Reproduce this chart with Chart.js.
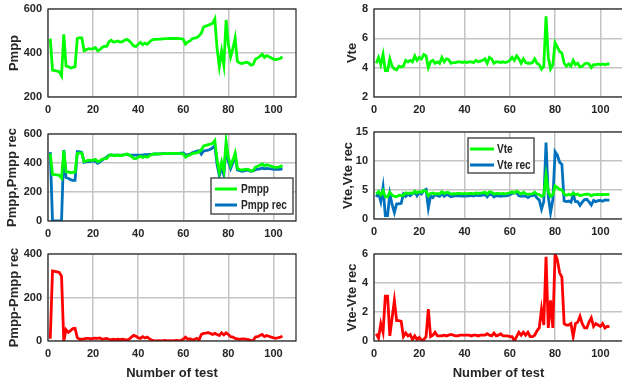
<!DOCTYPE html>
<html>
<head>
<meta charset="utf-8">
<script src="https://cdn.jsdelivr.net/npm/chart.js@4.4.1/dist/chart.umd.min.js"></script>
<style>
html, body { margin: 0; padding: 0; background: #fff; width: 622px; height: 385px; overflow: hidden; }
canvas { position: absolute; }
</style>
</head>
<body>
<canvas id="c1" width="311" height="127" style="left:0;top:-5px"></canvas>
<canvas id="c2" width="320" height="127" style="left:311px;top:-5px"></canvas>
<canvas id="c3" width="311" height="126" style="left:0;top:120px"></canvas>
<canvas id="c4" width="320" height="126" style="left:311px;top:118px"></canvas>
<canvas id="c5" width="311" height="145" style="left:0;top:240px"></canvas>
<canvas id="c6" width="320" height="145" style="left:311px;top:240px"></canvas>
<script>
// test index 1..104
const testNo = Array.from({ length: 104 }, (_, i) => i + 1);
const xTicks = [0, 20, 40, 60, 80, 100];

const pmpp = [465, 322, 320, 318, 315, 296, 485, 340, 338, 332, 335, 338, 466, 470, 468, 410, 415, 420, 418, 420,
  425, 410, 415, 425, 430, 430, 450, 458, 450, 452, 455, 450, 452, 458, 462, 455, 445, 432, 430, 440,
  448, 438, 445, 440, 450, 458, 462, 462, 463, 463, 464, 465, 465, 466, 466, 466, 466, 465, 465, 462,
  440, 450, 455, 465, 468, 470, 478, 490, 518, 522, 526, 530, 535, 555, 420, 338, 408, 345, 550, 440,
  382, 420, 468, 362, 355, 352, 355, 358, 355, 345, 348, 372, 378, 385, 395, 380, 388, 383, 378, 372,
  370, 372, 375, 383];
const pmppRec = [475, 0, 0, 0, 0, 0, 490, 300, 295, 285, 280, 280, 478, 478, 472, 405, 410, 410, 412, 415,
  412, 398, 408, 420, 430, 440, 455, 455, 455, 455, 455, 455, 455, 458, 460, 455, 455, 455, 455, 455,
  455, 455, 458, 458, 460, 460, 462, 462, 463, 463, 464, 465, 465, 466, 466, 466, 466, 465, 468, 470,
  455, 458, 462, 470, 476, 482, 484, 460, 483, 486, 488, 495, 505, 520, 390, 313, 370, 317, 512, 410,
  362, 402, 456, 352, 347, 342, 345, 350, 349, 343, 346, 354, 358, 360, 365, 360, 363, 361, 360, 357,
  358, 357, 357, 361];
const pmppDiff = [10, 322, 320, 318, 315, 298, 0, 52, 40, 48, 57, 58, 15, 8, 8, 10, 12, 12, 10, 12,
  13, 12, 14, 8, 10, 12, 8, 6, 8, 6, 8, 6, 8, 6, 4, 8, 18, 26, 22, 15,
  12, 20, 14, 18, 10, 4, 2, 1, 2, 1, 2, 3, 1, 2, 1, 2, 3, 2, 3, 8,
  18, 8, 10, 5, 8, 12, 5, 30, 35, 36, 38, 35, 30, 35, 30, 25, 38, 28, 38, 30,
  20, 18, 12, 10, 8, 10, 10, 8, 6, 2, 2, 18, 20, 25, 30, 20, 25, 22, 18, 15,
  12, 15, 18, 22];

const vte = [4.3, 4.7, 4.2, 4.9, 3.8, 3.8, 4.6, 4.1, 3.9, 3.85, 4.1, 4.05, 4.1, 4.5, 4.4, 4.5, 4.4, 4.8, 4.5, 4.7,
  4.6, 4.9, 4.8, 4.0, 4.4, 4.5, 4.3, 4.4, 4.3, 4.7, 4.4, 4.6, 4.55, 4.3, 4.35, 4.35, 4.4, 4.4, 4.35, 4.4,
  4.35, 4.4, 4.4, 4.35, 4.5, 4.4, 4.45, 4.5, 4.6, 4.3, 4.7, 4.6, 4.3, 4.4, 4.4, 4.35, 4.4, 4.35, 4.4, 4.5,
  4.7, 4.5, 4.8, 4.6, 4.3, 4.6, 4.35, 4.3, 4.3, 4.35, 4.6, 4.3, 4.2, 3.9, 4.1, 7.5, 4.7, 3.9, 4.2, 5.7,
  5.4, 5.1, 5.0, 4.3, 4.1, 4.25, 4.1, 4.5, 4.2, 4.3, 4.05, 4.1, 4.25, 4.3, 4.25, 4.0, 4.2, 4.2, 4.25, 4.2,
  4.25, 4.2, 4.25, 4.25];
const vteRec = [3.8, 4.5, 3.0, 5.5, 0.6, 0.6, 4.3, 2.5, 1.1, 2.6, 2.6, 2.7, 4.3, 3.9, 4.3, 4.0, 4.3, 4.7, 4.0, 4.6,
  4.3, 4.9, 5.1, 1.9, 4.0, 3.7, 4.2, 4.0, 3.9, 4.4, 3.9, 4.2, 4.1, 3.85, 3.95, 4.0, 4.0, 4.0, 3.95, 4.0,
  3.95, 4.0, 4.05, 3.95, 4.1, 4.05, 4.05, 4.1, 4.2, 3.8, 4.3, 4.2, 3.8, 4.05, 4.0, 3.9, 4.0, 4.0, 4.05, 4.2,
  4.4, 4.5, 4.5, 4.0, 3.9, 4.0, 3.95, 3.7, 4.0, 4.05, 4.2, 3.6, 3.3, 1.7, 3.0, 13.2, 3.8, 1.1, 3.3, 11.6,
  11.0, 9.8, 9.4, 3.1, 3.0, 3.1, 2.9, 4.2, 3.0, 3.0, 2.35, 2.9, 3.35, 3.4, 2.95, 2.4, 3.2, 3.0, 3.15, 3.2,
  3.05, 3.3, 3.25, 3.25];
const vteDiff = [0.5, 0.2, 1.2, 0.6, 3.1, 3.1, 0.35, 1.6, 2.8, 1.4, 1.4, 1.35, 0.3, 0.55, 0.35, 0.45, 0.1, 0.35, 0.1, 0.25,
  0.05, 0.1, 0.3, 2.2, 0.3, 0.4, 0.6, 0.35, 0.35, 0.35, 0.4, 0.35, 0.4, 0.45, 0.4, 0.35, 0.35, 0.4, 0.4, 0.4,
  0.4, 0.4, 0.35, 0.4, 0.4, 0.35, 0.4, 0.4, 0.4, 0.5, 0.4, 0.35, 0.55, 0.35, 0.4, 0.5, 0.35, 0.35, 0.35, 0.3,
  0.3, 0.0, 0.3, 0.6, 0.4, 0.6, 0.4, 0.6, 0.3, 0.3, 0.4, 0.7, 0.9, 2.2, 1.1, 5.8, 0.9, 2.8, 0.9, 6.0,
  5.6, 4.7, 4.4, 1.2, 1.1, 1.1, 1.2, 0.3, 1.2, 1.3, 1.7, 1.2, 0.9, 0.9, 1.3, 1.6, 1.0, 1.2, 1.1, 1.0,
  1.2, 0.9, 1.0, 1.0];

const GREEN = '#00ff00', BLUE = '#0072bd', RED = '#ff0000';
const TXT = '#262626';
const FONT = "'Liberation Sans', Arial, sans-serif";

// black box round the plot area, like matlab "box on"
const frame = {
  id: 'frame',
  afterDatasetsDraw(chart) {
    const { ctx, chartArea: a } = chart;
    ctx.save();
    ctx.strokeStyle = TXT;
    ctx.lineWidth = 1.2;
    ctx.strokeRect(a.left, a.top, a.right - a.left, a.bottom - a.top);
    ctx.restore();
  }
};

// legend box placed inside the axes
const boxLegend = {
  id: 'boxLegend',
  afterDraw(chart, args, opts) {
    if (!opts || opts.left === undefined) return;
    const ctx = chart.ctx;
    ctx.save();
    ctx.fillStyle = '#fff';
    ctx.fillRect(opts.left, opts.top, opts.width, opts.height);
    ctx.strokeStyle = '#505050';
    ctx.lineWidth = 1.5;
    ctx.strokeRect(opts.left, opts.top, opts.width, opts.height);
    chart.data.datasets.forEach((ds, i) => {
      const y = opts.rows[i];
      ctx.strokeStyle = ds.borderColor;
      ctx.lineWidth = 3;
      ctx.beginPath();
      ctx.moveTo(opts.lineX[0], y);
      ctx.lineTo(opts.lineX[1], y);
      ctx.stroke();
      // squeeze the text a bit, the original font is a narrow one
      ctx.save();
      ctx.translate(opts.textX, y + 0.5);
      ctx.scale(0.84, 1);
      ctx.font = 'bold 12px ' + FONT;
      ctx.textBaseline = 'middle';
      ctx.fillStyle = TXT;
      ctx.fillText(ds.label, 0, 0);
      ctx.restore();
    });
    ctx.restore();
  }
};

function panel(id, o) {
  const yT = o.yTicks;
  return new Chart(document.getElementById(id), {
    type: 'line',
    data: {
      labels: testNo,
      datasets: o.sets.map(s => ({
        label: s.label, data: s.data, borderColor: s.color, backgroundColor: s.color,
        borderWidth: 2.8, pointRadius: 0, tension: 0, fill: false
      }))
    },
    options: {
      responsive: false,
      animation: false,
      layout: { padding: { top: 14, right: o.pr, left: 0, bottom: 0 } },
      plugins: { legend: { display: false }, tooltip: { enabled: false }, boxLegend: o.legend || {} },
      scales: {
        x: {
          type: 'linear', min: 0, max: 110,
          afterBuildTicks: s => { s.ticks = xTicks.map(v => ({ value: v })); },
          afterFit: s => { s.height = o.xh; },
          grid: { color: '#c4c4c4', lineWidth: 1.5, drawTicks: false },
          border: { display: false },
          ticks: { color: TXT, padding: 6, maxRotation: 0, font: { family: FONT, size: 11, weight: 'bold' } },
          title: o.xTitle
            ? { display: true, text: o.xTitle, color: TXT, padding: { top: 0, bottom: 4 }, font: { family: FONT, size: 13, weight: 'bold' } }
            : { display: false }
        },
        y: {
          type: 'linear', min: yT[0], max: yT[yT.length - 1],
          afterBuildTicks: s => { s.ticks = yT.map(v => ({ value: v })); },
          afterFit: s => { s.width = o.yw; },
          grid: { color: '#c4c4c4', lineWidth: 1.5, drawTicks: false },
          border: { display: false },
          ticks: { color: TXT, padding: 6, font: { family: FONT, size: 11, weight: 'bold' } },
          title: { display: true, text: o.yTitle, color: TXT, padding: { top: o.tp, bottom: 0 }, font: { family: FONT, size: 13, weight: 'bold' } }
        }
      }
    },
    plugins: [frame, boxLegend]
  });
}

panel('c1', { yTicks: [200, 400, 600], yTitle: 'Pmpp', tp: 7, yw: 48, pr: 15, xh: 25,
  sets: [{ label: 'Pmpp', data: pmpp, color: GREEN }] });
panel('c2', { yTicks: [2, 4, 6, 8], yTitle: 'Vte', tp: 34, yw: 63, pr: 8, xh: 25,
  sets: [{ label: 'Vte', data: vte, color: GREEN }] });
panel('c3', { yTicks: [0, 200, 400, 600], yTitle: 'Pmpp,Pmpp rec', tp: 5, yw: 48, pr: 15, xh: 25,
  sets: [{ label: 'Pmpp', data: pmpp, color: GREEN }, { label: 'Pmpp rec', data: pmppRec, color: BLUE }],
  legend: { left: 211, top: 58, width: 82, height: 36, lineX: [215, 237], textX: 241, rows: [69, 85] } });
panel('c4', { yTicks: [0, 5, 10, 15], yTitle: 'Vte,Vte rec', tp: 30, yw: 63, pr: 8, xh: 25,
  sets: [{ label: 'Vte', data: vte, color: GREEN }, { label: 'Vte rec', data: vteRec, color: BLUE }],
  legend: { left: 157, top: 20, width: 66, height: 35, lineX: [159, 183], textX: 186, rows: [31, 47] } });
panel('c5', { yTicks: [0, 200, 400], yTitle: 'Pmpp-Pmpp rec', tp: 7, yw: 48, pr: 15, xh: 44, xTitle: 'Number of test',
  sets: [{ label: 'Pmpp-Pmpp rec', data: pmppDiff, color: RED }] });
panel('c6', { yTicks: [0, 2, 4, 6], yTitle: 'Vte-Vte rec', tp: 34, yw: 63, pr: 8, xh: 44, xTitle: 'Number of test',
  sets: [{ label: 'Vte-Vte rec', data: vteDiff, color: RED }] });
</script>
</body>
</html>
